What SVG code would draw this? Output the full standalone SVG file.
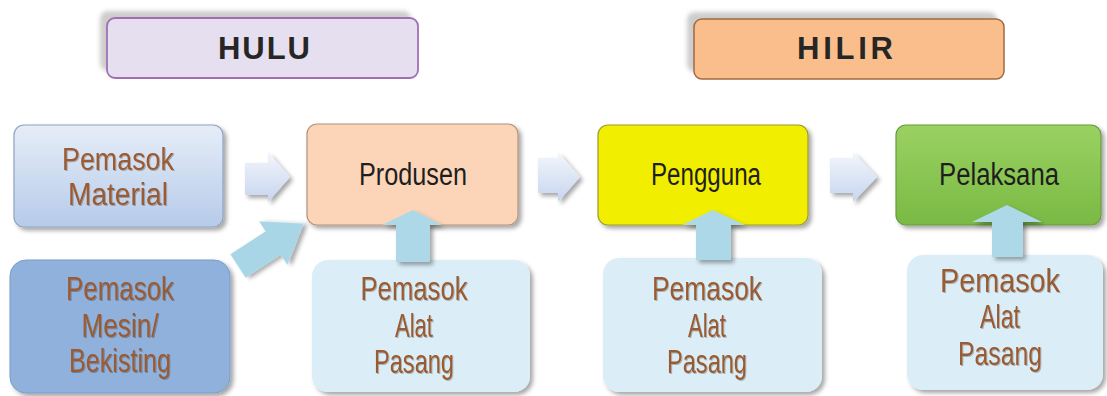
<svg xmlns="http://www.w3.org/2000/svg" width="1107" height="396" viewBox="0 0 1107 396">
<style>
.hdr{font-family:"Liberation Sans",Arial,sans-serif;font-weight:bold;font-size:31px;fill:#262626}
.t{font-family:"Liberation Sans",Arial,sans-serif;font-size:31px;text-anchor:middle}
.big{font-size:33px}
.dark{fill:#1e1e1e}
.brown{fill:#9a5a30}
.hs{fill:#cdcdcd}
</style>
<defs>
<filter id="sh" x="-10%" y="-10%" width="125%" height="130%">
<feDropShadow dx="3" dy="3" stdDeviation="2" flood-color="#000" flood-opacity="0.35"/>
</filter>
<filter id="blur"><feGaussianBlur stdDeviation="2"/></filter>
<filter id="tsh"><feDropShadow dx="1" dy="1" stdDeviation="0.6" flood-color="#000" flood-opacity="0.25"/></filter>
<linearGradient id="gMat" x1="0" y1="0" x2="0" y2="1"><stop offset="0" stop-color="#e6edf8"/><stop offset="1" stop-color="#b6cbe9"/></linearGradient>
<linearGradient id="gGreen" x1="0" y1="0" x2="0" y2="1"><stop offset="0" stop-color="#9ad262"/><stop offset="1" stop-color="#7ab944"/></linearGradient>
<linearGradient id="gArr" x1="0" y1="0" x2="0" y2="1"><stop offset="0" stop-color="#f3f6fc"/><stop offset="1" stop-color="#c6d5ee"/></linearGradient>
</defs>

<g id="hulu">
<rect class="hs" x="100" y="11" width="311" height="60" rx="8" filter="url(#blur)"/>
<rect x="107" y="18" width="311" height="60" rx="8" fill="#e6dff0" stroke="#a070b2" stroke-width="1.8"/>
<text class="hdr" x="218" y="59" textLength="92" lengthAdjust="spacing">HULU</text>
</g>
<g id="hilir">
<rect class="hs" x="687" y="12" width="310" height="60" rx="8" filter="url(#blur)"/>
<rect x="694" y="19" width="310" height="60" rx="8" fill="#f9be8b" stroke="#a06a42" stroke-width="1.5"/>
<text class="hdr" x="797" y="59" textLength="96" lengthAdjust="spacing">HILIR</text>
</g>

<g id="pemasok-material">
<rect x="14" y="125" width="209" height="102" rx="10" fill="url(#gMat)" stroke="#8ea3bf" stroke-width="1.2" filter="url(#sh)"/>
<text class="t brown" filter="url(#tsh)" x="118" y="170" textLength="112" lengthAdjust="spacingAndGlyphs">Pemasok</text>
<text class="t brown" filter="url(#tsh)" x="118" y="205" textLength="100" lengthAdjust="spacingAndGlyphs">Material</text>
</g>
<g id="pemasok-mesin">
<rect x="10" y="260" width="220" height="133" rx="16" fill="#8fb1dc" stroke="#7b9bc6" stroke-width="1" filter="url(#sh)"/>
<text class="t big brown" filter="url(#tsh)"><tspan x="120" y="300" textLength="108" lengthAdjust="spacingAndGlyphs">Pemasok</tspan><tspan x="120" y="337" textLength="77" lengthAdjust="spacingAndGlyphs">Mesin/</tspan><tspan x="120" y="372" textLength="102" lengthAdjust="spacingAndGlyphs">Bekisting</tspan></text>
</g>
<g id="produsen">
<rect x="307" y="124" width="211" height="101" rx="10" fill="#fcd5b8" stroke="#b4927a" stroke-width="1.2" filter="url(#sh)"/>
<text class="t dark" x="413" y="185" textLength="108" lengthAdjust="spacingAndGlyphs">Produsen</text>
</g>
<g id="pengguna">
<rect x="598" y="125" width="210" height="100" rx="10" fill="#f2ee00" stroke="#9e9a30" stroke-width="1.2" filter="url(#sh)"/>
<text class="t dark" x="706" y="185" textLength="110" lengthAdjust="spacingAndGlyphs">Pengguna</text>
</g>
<g id="pelaksana">
<rect x="896" y="125" width="205" height="100" rx="10" fill="url(#gGreen)" stroke="#6a9a40" stroke-width="1.2" filter="url(#sh)"/>
<text class="t dark" x="999" y="185" textLength="120" lengthAdjust="spacingAndGlyphs">Pelaksana</text>
</g>
<g id="alat-pasang-1">
<rect x="312" y="260" width="218" height="132" rx="16" fill="#dbeef7" filter="url(#sh)"/>
<text class="t big brown" filter="url(#tsh)"><tspan x="414" y="300" textLength="107" lengthAdjust="spacingAndGlyphs">Pemasok</tspan><tspan x="414" y="337" textLength="38" lengthAdjust="spacingAndGlyphs">Alat</tspan><tspan x="414" y="373" textLength="80" lengthAdjust="spacingAndGlyphs">Pasang</tspan></text>
</g>
<g id="alat-pasang-2">
<rect x="603" y="258" width="219" height="134" rx="16" fill="#dbeef7" filter="url(#sh)"/>
<text class="t big brown" filter="url(#tsh)"><tspan x="707" y="300" textLength="110" lengthAdjust="spacingAndGlyphs">Pemasok</tspan><tspan x="707" y="337" textLength="38" lengthAdjust="spacingAndGlyphs">Alat</tspan><tspan x="707" y="373" textLength="80" lengthAdjust="spacingAndGlyphs">Pasang</tspan></text>
</g>
<g id="alat-pasang-3">
<rect x="907" y="255" width="196" height="135" rx="16" fill="#dbeef7" filter="url(#sh)"/>
<text class="t big brown" filter="url(#tsh)"><tspan x="1000" y="292" textLength="120" lengthAdjust="spacingAndGlyphs">Pemasok</tspan><tspan x="1000" y="328" textLength="40" lengthAdjust="spacingAndGlyphs">Alat</tspan><tspan x="1000" y="365" textLength="84" lengthAdjust="spacingAndGlyphs">Pasang</tspan></text>
</g>

<g id="connectors">
<polygon points="245,163 268,163 268,152 290,177 268,202 268,195 245,195" fill="url(#gArr)" filter="url(#sh)"/>
<polygon points="538,158 558,158 558,152 580,177 558,202 558,193 538,193" fill="url(#gArr)" filter="url(#sh)"/>
<polygon points="830,158 853,158 853,152 877,177 853,202 853,193 830,193" fill="url(#gArr)" filter="url(#sh)"/>
<polygon transform="translate(238,266) rotate(-33)" points="0,-14 42,-14 42,-26 78,0 42,26 42,14 0,14" fill="#a9d6e6" filter="url(#sh)"/>
<polygon points="396,262 396,225 382,225 413,210 442,225 430,225 430,262" fill="#add8e8" filter="url(#sh)"/>
<polygon points="696,260 696,225 682,225 713,210 745,225 731,225 731,260" fill="#add8e8" filter="url(#sh)"/>
<polygon points="992,257 992,222 972,222 1007,205 1042,222 1023,222 1023,257" fill="#add8e8" filter="url(#sh)"/>
</g>
</svg>
